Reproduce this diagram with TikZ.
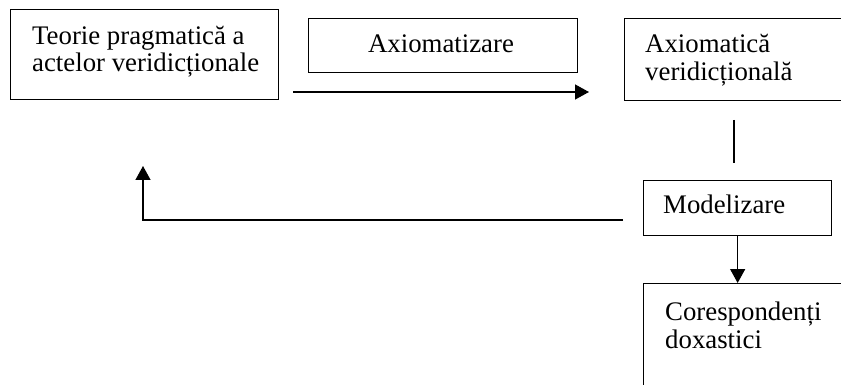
\documentclass[tikz,border=0pt]{standalone}
\usepackage{fontspec}
\setmainfont{Liberation Serif}
\usetikzlibrary{arrows.meta}
\begin{document}
\begin{tikzpicture}[x=1pt,y=-1pt,
  box/.style={draw,line width=1.3pt,rectangle,inner sep=0pt,anchor=north west},
  lbl/.style={anchor=base west,inner sep=0pt,font=\fontsize{26.8}{30}\selectfont},
  conn/.style={line width=1.3pt},
  arr/.style={conn,-{Triangle[length=14pt,width=15pt]}}]
\useasboundingbox (0,0) rectangle (841,385);
\clip (0,0) rectangle (841,385);

% boxes
\node[box,minimum width=268pt,minimum height=90pt] (teorie) at (10,9) {};
\node[box,minimum width=269pt,minimum height=54pt] (axz) at (308,18) {};
\node[box,minimum width=230pt,minimum height=82pt] (axc) at (624,18) {};
\node[box,minimum width=188pt,minimum height=55pt] (model) at (643,180) {};
\node[box,minimum width=210pt,minimum height=120pt] (coresp) at (643,283) {};

% labels
\node[lbl] (t1) at (32,45) {Teorie pragmatică a};
\node[lbl] (t2) at (32,72) {actelor veridicționale};
\node[lbl,anchor=base] (t3) at (441,53) {Axiomatizare};
\node[lbl] (t4) at (645,53) {Axiomatică};
\node[lbl] (t5) at (645,81) {veridicțională};
\node[lbl] (t6) at (663,213) {Modelizare};
\node[lbl] (t7) at (665,320) {Corespondenți};
\node[lbl] (t8) at (665,348) {doxastici};

% connector end points
\coordinate (axs) at (293,92);
\coordinate (axe) at (589,92);
\coordinate (vs) at (734,120);
\coordinate (ve) at (734,163);
\coordinate (fbs) at (623,220);
\coordinate (fbc) at (143,220);
\coordinate (fbe) at (143,166);

% connectors
\draw[arr] (axs) -- (axe);
\draw[conn] (vs) -- (ve);
\draw[arr] (fbs) -- (fbc) -- (fbe);
\draw[arr] (model.south) -- (model.south |- coresp.north);
\end{tikzpicture}
\end{document}
